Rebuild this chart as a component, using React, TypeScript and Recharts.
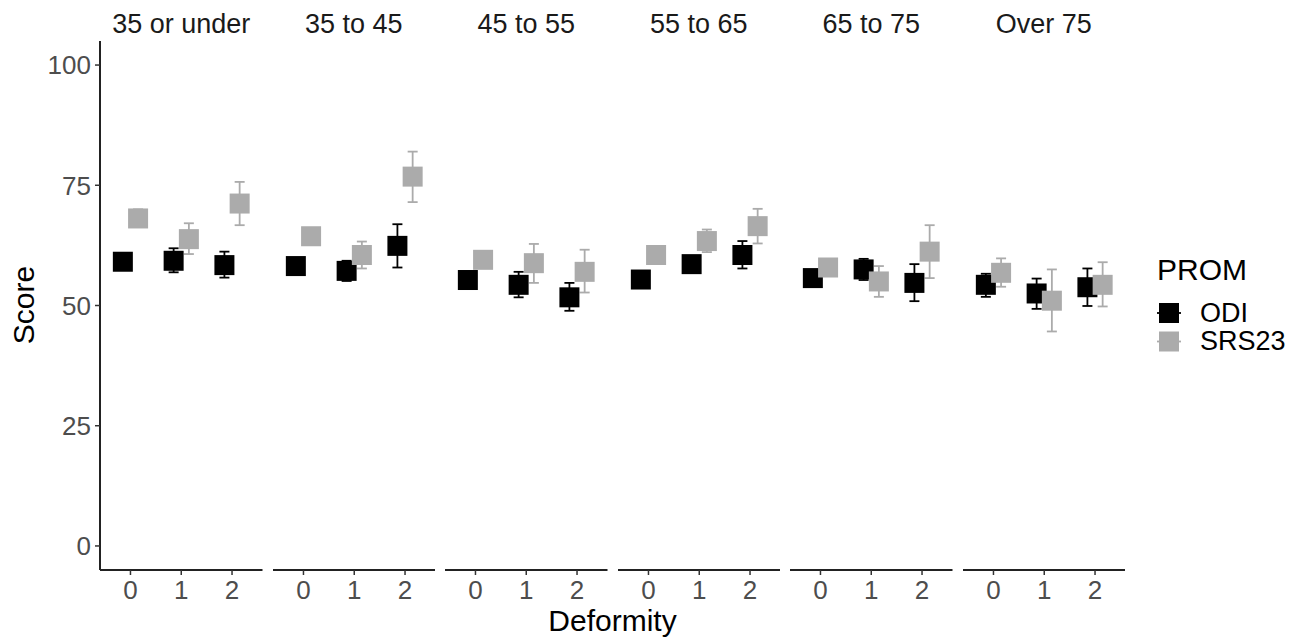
import React from 'react';
import { ComposedChart, Scatter, XAxis, YAxis, ErrorBar } from 'recharts';

const ageGroups = ['35 or under', '35 to 45', '45 to 55', '55 to 65', '65 to 75', 'Over 75'];
const deformity = [0, 1, 2];
const yTicks = [0, 25, 50, 75, 100];

// one row per age group, one value per deformity level
const odiMean = [
  [59.1, 59.3, 58.4],
  [58.2, 57.2, 62.4],
  [55.3, 54.3, 51.7],
  [55.4, 58.6, 60.5],
  [55.7, 57.5, 54.7],
  [54.3, 52.5, 53.8],
];
const odiLow = [
  [58.3, 56.9, 55.8],
  [57.5, 55.1, 57.9],
  [54.5, 51.7, 48.9],
  [54.6, 57.6, 57.7],
  [55.0, 55.3, 50.9],
  [51.8, 49.3, 49.9],
];
const odiHigh = [
  [59.9, 61.9, 61.2],
  [58.9, 59.3, 66.9],
  [56.1, 57.0, 54.7],
  [56.2, 59.6, 63.4],
  [56.4, 59.7, 58.6],
  [56.6, 55.6, 57.7],
];

const srsMean = [
  [68.1, 63.8, 71.2],
  [64.4, 60.5, 76.8],
  [59.5, 58.8, 57.0],
  [60.5, 63.4, 66.5],
  [57.9, 55.0, 61.2],
  [56.8, 51.0, 54.3],
];
const srsLow = [
  [66.3, 60.7, 66.7],
  [63.0, 57.7, 71.5],
  [58.5, 54.7, 52.7],
  [59.5, 61.1, 62.9],
  [57.0, 51.8, 55.7],
  [53.9, 44.6, 49.8],
];
const srsHigh = [
  [70.0, 67.1, 75.7],
  [66.0, 63.3, 82.0],
  [60.5, 62.8, 61.6],
  [61.5, 65.8, 70.1],
  [58.8, 58.2, 66.7],
  [59.8, 57.5, 59.0],
];

const ODI_COLOR = '#000000';
const SRS_COLOR = '#ababab';
const FONT = '"Liberation Sans", Arial, sans-serif';

const PANEL_LEFT = 100;
const PANEL_W = 162.5;
const PANEL_GAP = 10;
const PLOT_TOP = 41;
const PLOT_H = 529;
const X_AXIS_H = 50;
const DODGE = 0.15;

function buildSeries(mean: number[][], low: number[][], high: number[][], p: number, shift: number) {
  return deformity.map((d, j) => ({
    x: d + shift,
    y: mean[p][j],
    err: [mean[p][j] - low[p][j], high[p][j] - mean[p][j]],
  }));
}

function SquareDot(props: any) {
  const { cx, cy, fill } = props;
  if (cx == null || cy == null) return null;
  return <rect x={cx - 10} y={cy - 10} width={20} height={20} fill={fill} />;
}

function Panel({ p }: { p: number }) {
  const first = p === 0;
  const yW = first ? PANEL_LEFT : 0;
  const left = PANEL_LEFT + p * (PANEL_W + PANEL_GAP) - yW;
  const odi = buildSeries(odiMean, odiLow, odiHigh, p, -DODGE);
  const srs = buildSeries(srsMean, srsLow, srsHigh, p, DODGE);

  return (
    <div style={{ position: 'absolute', left, top: PLOT_TOP }}>
      <ComposedChart
        width={PANEL_W + yW}
        height={PLOT_H + X_AXIS_H}
        margin={{ top: 0, right: 0, bottom: 0, left: 0 }}
      >
        <XAxis
          type="number"
          dataKey="x"
          domain={[-0.6, 2.6]}
          ticks={deformity}
          allowDataOverflow
          height={X_AXIS_H}
          tickSize={5}
          tickMargin={6}
          axisLine={{ stroke: '#222', strokeWidth: 2 }}
          tickLine={{ stroke: '#333', strokeWidth: 1.5 }}
          tick={{ fill: '#4d4d4d', fontSize: 26, fontFamily: FONT }}
        />
        <YAxis
          type="number"
          dataKey="y"
          domain={[-5, 105]}
          ticks={yTicks}
          allowDataOverflow
          hide={!first}
          width={yW}
          tickSize={5}
          tickMargin={4}
          axisLine={{ stroke: '#222', strokeWidth: 2 }}
          tickLine={{ stroke: '#333', strokeWidth: 1.5 }}
          tick={{ fill: '#4d4d4d', fontSize: 26, fontFamily: FONT }}
        />
        <Scatter data={odi} fill={ODI_COLOR} shape={<SquareDot />} isAnimationActive={false}>
          <ErrorBar dataKey="err" direction="y" width={5} stroke={ODI_COLOR} strokeWidth={1.8} />
        </Scatter>
        <Scatter data={srs} fill={SRS_COLOR} shape={<SquareDot />} isAnimationActive={false}>
          <ErrorBar dataKey="err" direction="y" width={5} stroke={SRS_COLOR} strokeWidth={1.8} />
        </Scatter>
      </ComposedChart>
    </div>
  );
}

export default function App() {
  return (
    <div
      style={{
        position: 'absolute',
        left: 0,
        top: 0,
        width: 1297,
        height: 637,
        background: '#fff',
        fontFamily: FONT,
      }}
    >
      {ageGroups.map((_, p) => (
        <Panel key={p} p={p} />
      ))}
      <svg
        width={1297}
        height={637}
        style={{ position: 'absolute', left: 0, top: 0, pointerEvents: 'none' }}
      >
        {ageGroups.map((g, p) => (
          <text
            key={g}
            x={PANEL_LEFT + p * (PANEL_W + PANEL_GAP) + PANEL_W / 2}
            y={32.5}
            textAnchor="middle"
            fontSize={27}
            fill="#1a1a1a"
            fontFamily={FONT}
          >
            {g}
          </text>
        ))}
        <text
          x={612.5}
          y={631}
          textAnchor="middle"
          fontSize={30}
          fill="#000"
          fontFamily={FONT}
        >
          Deformity
        </text>
        <text
          transform="translate(33.5,305) rotate(-90)"
          textAnchor="middle"
          fontSize={30}
          fill="#000"
          fontFamily={FONT}
        >
          Score
        </text>

        <text x={1157} y={280} fontSize={30} fill="#000" fontFamily={FONT}>
          PROM
        </text>
        <line x1={1157} x2={1181} y1={313} y2={313} stroke={ODI_COLOR} strokeWidth={1.8} />
        <rect x={1159} y={303} width={20} height={20} fill={ODI_COLOR} />
        <text x={1200} y={322} fontSize={27} fill="#000" fontFamily={FONT}>
          ODI
        </text>
        <line x1={1157} x2={1181} y1={341.5} y2={341.5} stroke={SRS_COLOR} strokeWidth={1.8} />
        <rect x={1159} y={331.5} width={20} height={20} fill={SRS_COLOR} />
        <text x={1200} y={350} fontSize={27} fill="#000" fontFamily={FONT}>
          SRS23
        </text>
      </svg>
    </div>
  );
}
